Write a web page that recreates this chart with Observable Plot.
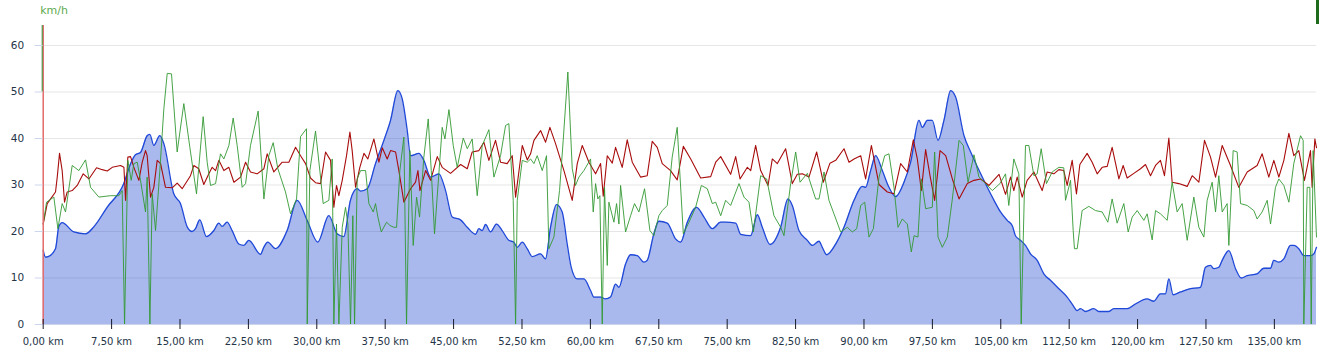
<!DOCTYPE html>
<html><head><meta charset="utf-8">
<script src="https://cdn.jsdelivr.net/npm/d3@7"></script>
<script src="https://cdn.jsdelivr.net/npm/@observablehq/plot@0.6"></script>
<style>
body{margin:0;background:#fff;}
#wrap{position:relative;width:1319px;height:358px;}
#corner{position:absolute;left:1316px;top:0;width:3px;height:24px;background:#1e6b1e;}
</style></head>
<body><div id="wrap"><div id="corner"></div></div>
<script>
// Elevation (blue area)
const blueKm = [0,0.25,0.55,1.35,1.71,2.08,3.36,4.64,5.55,7.01,8.84,9.57,10.12,10.67,11.4,11.69,12.13,12.79,13.23,14.32,15.05,15.79,16.33,16.7,17.17,17.9,18.71,19.26,19.62,20.17,20.72,21.45,22,22.55,23.83,24.19,24.63,25.47,26.75,27.85,28.94,30.11,31.32,32.23,32.96,33.69,34.43,
34.8,35.53,36.44,37.36,38.09,38.89,39.37,39.92,40.28,41.2,41.74,42.48,43.39,44.12,44.85,45.76,46.5,47.41,47.78,48.14,48.51,49.05,49.71,50.33,51.06,51.61,51.98,52.53,53.07,53.62,54.54,55.08,55.63,56.29,56.91,57.46,57.9,58.56,59.29,60.02,60.38,61.12,61.66,62.21,62.76,63.13,63.86,64.41,65.14,65.87,66.23,66.96,67.51,68.43,69.34,
69.9,70.63,71.65,72.46,73.37,74.29,74.83,75.93,76.48,77.58,78.31,78.85,79.7,80.86,81.67,82.14,82.87,83.79,84.34,85.07,85.43,85.91,86.9,87.81,88.91,89.82,90.18,90.73,91.28,92.01,92.74,93.47,94.39,95.12,96.03,96.4,96.95,97.49,98.12,98.77,99.51,100.05,100.97,101.7,102.8,104.26,
104.97,105.7,106.25,106.61,107.16,107.71,108.26,108.99,109.72,110.45,111.37,112.28,112.83,113.38,113.74,114.29,115.2,115.75,116.85,117.4,118.86,119.77,121.05,121.78,122.51,123.06,123.43,123.9,124.71,125.8,126.9,127.45,128,128.36,128.91,129.28,130.01,130.74,131.36,132.02,133.11,133.84,134.58,134.94,135.49,136.04,136.77,137.14,137.68,138.23,138.96,139.33,139.62];
const blueAlt = [16.0,14.5,14.6,16.3,21,21.9,19.9,19.5,21,25.2,30.3,34.5,36.5,37,40.6,40.9,38.5,40.6,38.9,28.1,26,21,20,20.6,22.5,18.9,20.2,21.8,21.1,22,20.2,17.3,17,18.1,15.1,16.6,17.7,16.3,20.2,26.7,22.4,17.7,23.4,19.5,18.9,26.7,29.2,
28.7,29.2,34.6,39.6,43.9,50.3,48.5,41.7,36.3,36.8,35.3,31.7,32.4,28.8,23.1,22.5,20.9,19.4,20.6,20.2,21.5,19.9,21.6,20.2,18.1,17.7,16.6,17.7,16.3,14.6,15.2,14.1,20.9,25.8,24.2,17.3,12.3,9.8,9.8,7.3,5.9,5.9,5.5,5.9,8.7,8,13,15,14.8,13.4,13.8,19.5,22.2,21.8,18.4,
17.7,22,25.2,23.1,20.6,22,22,21.8,19.4,19.1,23.6,20.9,17.2,20.9,27,25.6,20.2,18.1,17,17.9,16.6,15,17.3,20.9,26.7,29.7,29.5,33.1,36.3,33.1,29.5,27.5,30.6,34.9,43.9,42.4,43.9,43.9,39.6,43.9,50.3,48.9,40.6,37.1,32.4,26.7,
24.2,22.4,21.3,19.1,18.1,17,15.2,13.8,10.9,9.5,7.7,5.9,4.4,3,3.4,2.8,3.4,2.8,2.8,3.4,3.4,4.4,5.5,5,6.6,6.6,9.8,6.4,7,7.7,8,12.3,12.7,12,12.3,13.8,15.9,12,10,10.5,10.9,12.1,12.1,13.8,13.4,14.1,17,17,16.3,14.8,14.8,15.2,16.6];

// Red series
const redKm = [0,0.44,1.35,1.54,1.79,2.08,2.34,2.63,3.18,3.73,4.39,5.01,5.85,6.47,7.02,7.57,8.48,8.85,9.03,9.28,9.58,9.94,10.49,10.86,11.22,11.4,11.77,12.13,12.5,12.87,13.41,14.14,14.69,15.24,16.15,16.52,17.06,17.61,18.16,18.53,18.9,19.26,19.81,20.36,20.91,21.64,22.19,22.73,23.46,24.2,24.56,25.29,26.21,26.94,27.67,28.22,28.77,29.31,29.86,30.41,30.96,31.51,31.87,32.16,32.42,32.79,33.26,33.63,33.88,34.25,34.72,
35.17,35.6,36.26,36.81,37.18,37.72,38.09,38.64,39.0,39.55,40.28,40.83,41.09,41.31,41.93,42.48,43.21,43.75,44.67,45.77,46.5,47.04,47.78,48.32,48.87,49.6,50.15,50.88,51.43,51.8,52.53,53.08,53.44,53.81,54.54,55.09,55.56,56.18,57.1,58.01,58.56,59.11,59.84,60.57,61.12,61.41,61.85,62.4,62.76,63.49,64.04,64.59,65.5,66.23,66.78,67.33,67.88,68.79,69.52,
70.19,71.0,72.09,73.19,73.74,74.29,75.38,75.93,76.41,77.21,77.58,78.12,78.67,79.48,79.95,80.5,81.41,82.14,82.69,83.24,83.97,84.81,85.54,86.27,86.9,87.81,88.36,88.91,89.64,90.18,90.81,91.65,92.56,93.29,94.02,94.75,95.41,95.85,96.29,96.76,97.24,97.75,98.34,98.96,99.69,100.42,101.33,102.06,102.8,103.71,104.81,
105.52,106.07,106.43,106.8,107.35,107.89,108.63,109.54,110.09,110.82,111.37,111.91,112.28,112.83,113.3,113.67,114.47,115.02,115.57,116.12,116.67,117.21,117.95,118.42,118.86,119.59,120.32,120.87,121.42,121.97,122.51,122.95,123.43,123.79,124.52,125.44,125.99,126.72,127.34,128.0,128.55,129.28,130.19,131.1,132.02,133.11,133.66,134.39,134.94,135.49,136.04,136.59,137.13,137.68,138.3,138.96,139.14,139.44,139.62];
const redVal = [21.6,26,28.5,31.7,36.8,33.1,26.3,28.5,28.8,29.9,32.4,31.3,33.7,33.3,33,33.8,34.2,33.8,26.7,36,36.1,33.8,31,34.9,37.4,36.3,27.4,29.5,35.3,34.6,29.5,29.4,30.4,29.2,32,34.2,33.5,30.1,32.4,33.8,33.1,35.3,33.1,33.8,30.6,31.7,34.9,32.8,32.4,33.5,36.7,32.8,34.9,34.9,38.1,36.3,34.6,31.5,30.5,30.3,37.1,35.3,25.2,29.9,27.7,31,36.3,41.4,37.4,29.5,33.8,
36.8,35.6,39.9,34.9,38,35.6,37.4,37.1,33.1,26.3,29.2,30.6,33.1,28.8,33.1,31,36.1,33.8,32.5,34.4,33.5,37.1,37.4,39.2,35.3,39.6,34.9,34.6,36.3,27.4,38.5,35.4,36.7,39.6,41.7,39.2,42.4,38.9,33.1,26.7,34.6,38.5,34.9,32.4,34.6,27.6,36.3,34.7,38.1,33.8,39.7,34.9,31.7,32,39.4,38.1,34.6,33.1,31.1,
38.3,35.6,31.5,31.8,34.9,36.1,32.3,36.1,31.3,33.8,33.1,38.5,33.1,29.9,35.6,34.6,37.8,30.3,32.3,32.4,31.7,37.1,30.6,34.7,35.3,37.8,34.9,35.6,36.3,31.3,38.5,30.1,28.5,28.1,34.6,32.8,39.7,35.6,28.8,37.6,32,26.7,37.4,36.3,31.3,27,30.3,31,31.3,29.9,32.3,
28,31.7,28.8,31.7,27.4,31,32.8,28.8,32.8,32.4,33.3,33.1,29.9,35.3,28.1,34.4,36.8,34.9,32.4,33.8,34,38.1,31.3,34.2,31.5,32.5,33.5,34.4,32,34.2,35.3,32,40.1,30.6,30.3,29.7,32,30.6,39.6,36,31.7,38.5,34.2,29.5,32.8,34.2,36.7,31.7,35.3,31.7,35.3,41.1,36.3,37.4,31,37.4,29.5,39.9,38];

// Green series (km/h)
const greenKm = [0,0.37,1.17,1.61,2.08,2.45,3.18,3.91,4.64,5.19,6.1,7.38,8.3,8.66,8.92,9.28,9.65,9.94,10.31,10.67,11.22,11.4,11.7,11.95,12.32,12.79,13.23,13.6,14.07,14.69,15.42,16.08,16.81,17.54,17.98,18.35,18.9,19.44,19.81,20.36,20.83,21.27,21.82,22.19,22.73,23.57,24.2,24.74,25.22,25.73,26.57,27.12,27.78,28.22,28.87,28.95,29.24,29.86,30.41,30.7,31.32,31.69,31.87,32.16,32.42,32.79,33.15,33.41,33.7,33.95,34.14,34.43,
34.8,35.35,35.71,36.19,36.44,36.7,37.07,37.65,38.02,38.46,38.75,39.11,39.55,39.84,40.21,40.57,40.94,41.27,41.74,42.22,42.55,42.91,43.75,44.05,44.49,44.96,45.4,46.06,46.5,47.04,47.59,48.14,48.87,49.42,50.15,50.7,51.06,51.54,51.8,51.98,52.53,53.08,53.44,53.81,54.17,54.72,55.19,55.45,56.0,56.62,57.02,57.53,58.01,58.37,58.74,59.29,60.02,60.31,60.57,60.82,61.04,61.3,61.55,61.85,62.03,62.58,62.87,63.13,63.31,63.86,64.41,64.84,65.32,65.94,66.53,66.96,67.51,67.88,68.43,68.97,69.52,
70.19,70.81,71.54,72.17,72.82,73.37,73.74,74.29,74.83,75.38,76.3,76.84,77.39,77.87,78.67,79.33,80.13,80.87,81.23,81.96,82.51,82.99,83.79,84.7,85.07,85.62,86.16,86.71,87.44,88.18,88.72,89.2,89.64,90.08,90.55,91.03,91.65,92.27,92.74,93.29,93.73,94.21,94.75,95.19,95.49,95.92,96.29,96.76,97.49,97.75,98.12,98.59,99.14,99.69,100.42,100.89,101.41,102.06,102.61,103.34,104.07,104.91,
105.52,105.88,106.43,106.98,107.24,107.71,108.08,108.63,108.99,109.43,110.01,110.64,111.37,111.91,112.1,112.65,112.94,113.08,113.38,113.92,114.66,115.39,116.12,116.74,117.21,117.76,118.49,118.97,119.41,119.96,120.69,121.05,121.6,121.97,122.51,123.25,123.79,124.34,124.89,125.44,126.17,126.72,127.27,127.63,128.18,128.55,128.91,129.28,129.82,130.01,130.48,130.92,131.29,132.02,132.75,133.11,133.66,134.21,134.58,135.12,135.49,136.04,136.59,137.13,137.87,138.16,138.23,138.6,138.89,139.04,139.25,139.62];
const greenVal = [21.6,26.3,27.4,20.6,26,24.2,34.2,33.1,35.4,29.5,27.4,27.7,27.7,28.8,0,35.3,31,34.6,34.9,31,24.2,31.7,0,28.1,20.2,33.1,46.4,54,53.9,37.1,47.5,38.1,28.1,44.7,34.9,29.9,30.3,36.7,35.6,38.5,44.4,38.5,29.5,30.3,38.5,45.9,27,36.3,39.1,33.5,28.5,23.8,27,40.4,42.1,0,33.1,41.6,31.7,26,26.7,35.6,0,21.6,0,20.9,25.2,21.6,0,23.4,0,31.3,
33.1,33.1,26,24.2,26,23.1,19.9,22,21.3,20.9,20.9,33.1,40.3,0,37.4,17,27.4,23.1,36,44.2,33.1,19.5,42.4,39.9,46.2,38.5,33.8,40.1,37.8,39.9,27.7,38.5,41.9,31.7,36.3,42.8,43.2,26.7,0,26.7,35.3,34.9,35.6,34.6,36.3,33.1,36.3,16.3,18.8,28.8,39.6,54.3,33.5,29.9,31.7,33.1,35.6,24.2,30.3,27,27.7,0,29.5,12.7,26.3,22,26,21.6,29.9,19.9,23.4,26,24.2,29.2,20.2,19.1,23.4,24.5,25.6,36,42.4,
19.5,22,25.2,29.9,29.2,26,26.3,23.4,26.7,25.6,30.3,27.4,26.3,19.9,32,31.3,23.4,20.9,19.1,30.3,37.1,30.6,32.5,27,27,32.8,26.7,23.8,19.9,20.9,19.9,20.6,25.6,26.3,18.8,20.6,31.7,36.3,36.7,29.5,20.9,22.7,21.6,15.6,19.1,18.8,31.3,24.9,25.2,37.1,18.8,16.6,18.8,27,39.6,38.5,30.6,36.5,31.7,30.3,28.8,30.3,
32.4,25.6,35.6,32.4,0,38.5,38.5,32,32.4,37.8,30.3,32.8,33.8,33.7,26.7,31,20.2,16.3,16.3,24.5,25.4,24.5,24.2,22,27,21.8,26,19.9,23.1,24.5,22.4,23.8,18.2,24.5,23.8,22.4,30.6,24.2,26,18.1,27.4,20.9,18.8,26.7,30.6,24.2,32,24.2,26,17,37.4,37.1,26,25.6,24.5,22.7,24.2,26.7,21.6,29.5,31.3,29.9,26.3,34.6,40.6,39.6,0,29.5,29.5,0,37.4,18.8];

const yTicks = [0,10,20,30,40,50,60];
const xTicks = [0,7.5,15,22.5,30,37.5,45,52.5,60,67.5,75,82.5,90,97.5,105,112.5,120,127.5,135];
const unitLabel = "km/h";

const blue = blueKm.map((k,i)=>({km:k, v:blueAlt[i]}));
const red = redKm.map((k,i)=>({km:k, v:redVal[i]}));
const green = greenKm.map((k,i)=>({km:k, v:greenVal[i]}));
const fmt = d => d.toFixed(2).replace(".", ",") + " km";

const chart = Plot.plot({
  width: 1319, height: 358,
  marginLeft: 42.7, marginRight: 3, marginTop: 25, marginBottom: 34,
  style: {fontFamily: "'DejaVu Sans', sans-serif", fontSize: "10px", background: "#fff"},
  x: {domain: [0, 139.62]},
  y: {domain: [0, 64.3]},
  marks: [
    Plot.ruleY(yTicks.filter(d=>d>0), {stroke: "#e6e6e6"}),
    Plot.areaY(blue, {x: "km", y: "v", fill: "rgb(30,70,210)", fillOpacity: 0.38, curve: "monotone-x"}),
    Plot.lineY(blue, {x: "km", y: "v", stroke: "#1f48d8", strokeWidth: 1.3, curve: "monotone-x"}),
    Plot.lineY(red, {x: "km", y: "v", stroke: "#a80c0c", strokeWidth: 1.1}),
    Plot.lineY(green, {x: "km", y: "v", stroke: "#339933", strokeWidth: 1, strokeOpacity: 0.9}),
    Plot.ruleY([0], {stroke: "#ccd6eb"}),
    Plot.ruleX([0], {y1: 0, y2: 64.3, stroke: "#e36a6a", strokeWidth: 1.5}),
    Plot.ruleX([0], {y1: 50, y2: 64.3, stroke: "#2f8f2f", strokeWidth: 1, dx: -1}),
    Plot.axisY({ticks: yTicks, tickSize: 8, tickPadding: 11, stroke: "#ccd6eb", fill: "#243447", fontSize: 10.5, label: null}),
    Plot.axisX({ticks: xTicks, tickSize: 10, dy: -5, text: null, stroke: "#1a1a2a", label: null}),
    Plot.axisX({ticks: xTicks, tickSize: 0, tickPadding: 13, tickFormat: fmt, fill: "#243447", label: null}),
    Plot.text([unitLabel], {frameAnchor: "top-left", dy: -19, dx: -3, fill: "#5daa4f", fontSize: 11, textAnchor: "start"})
  ]
});
document.getElementById("wrap").appendChild(chart);
</script>
</body></html>
